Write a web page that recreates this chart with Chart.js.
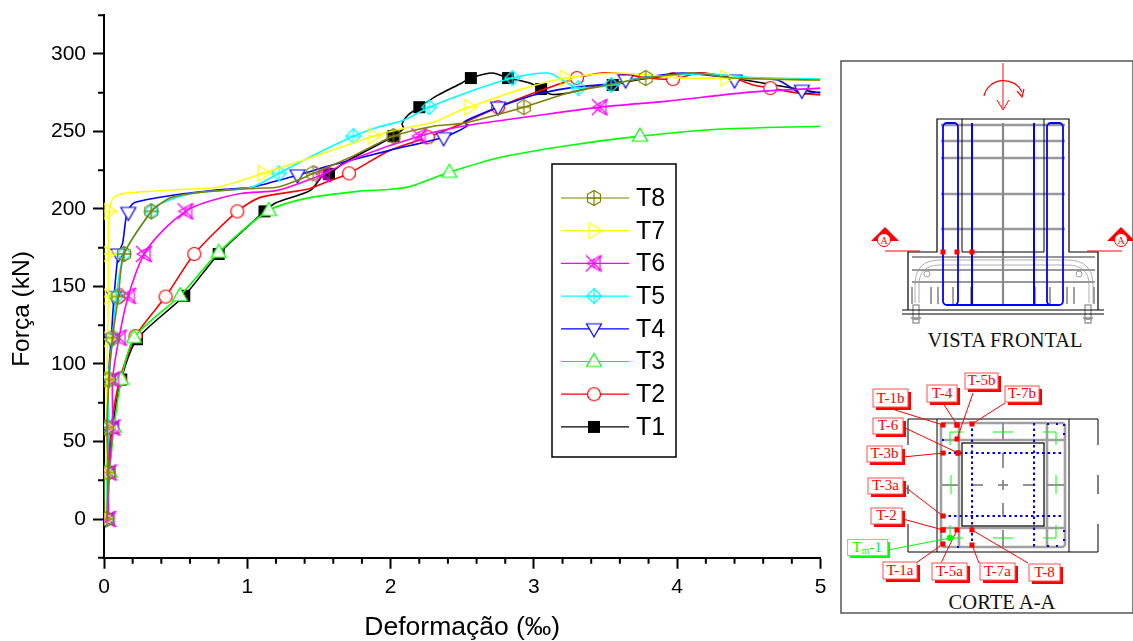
<!DOCTYPE html>
<html lang="pt">

<head>
    <meta charset="UTF-8" />
    <title>Força x Deformação</title>
    <script src="https://cdn.jsdelivr.net/npm/chart.js"></script>
    <style>
        html, body { margin: 0; background: #fff; width: 1133px; height: 641px; overflow: hidden; }
        #chart { position: absolute; left: 0; top: 0; }
        #detail { position: absolute; left: 0; top: 0; }
    </style>
</head>

<body>
    <canvas id="chart" width="840" height="641"></canvas>
    <svg id="detail" width="1133" height="641" viewBox="0 0 1133 641"></svg>

    <script>
        // [strain, force], one line and one marker list per test
        const t1Line = [[.02,0],[.03,30],[.06,59],[.12,90],[.23,116],[.56,144],[.80,171],[1.12,198.5],[1.20,204],[1.44,212],[1.53,222],[1.57,222.5],[1.67,229.5],[2.00,246],[2.09,252],[2.08,255],[2.12,260.5],[2.20,265.7],[2.33,273.5],[2.49,281],[2.56,284.5],[2.71,287.7],[2.82,284.5],[2.98,281],[3.05,277.4],[3.12,274],[3.24,274.8],[3.47,280],[3.55,280],[3.70,283],[3.93,285.8],[4.16,287.7],[4.39,284.5],[4.72,279.3],[5,274.8]];
        const t1Marks = [[.02,0],[.03,30],[.06,59],[.12,90],[.23,116],[.56,144],[.80,171],[1.12,198.5],[1.57,222.5],[2.02,247],[2.20,265.7],[2.56,284.5],[2.82,284.5],[3.05,277.4],[3.55,280]];

        const t2Line = [[.02,0],[.03,30],[.05,59],[.11,90],[.22,118],[.43,143.5],[.63,171],[.93,198.5],[1.09,207.5],[1.42,212.7],[1.53,216.6],[1.71,223],[2.00,238],[2.26,246.3],[2.47,254],[2.75,265.7],[3.00,274.8],[3.28,283.8],[3.47,287.7],[3.63,287],[3.79,284.5],[3.97,283.8],[4.16,287.7],[4.39,284.5],[4.53,280],[4.65,278],[4.84,274.8],[5,273.5]];
        const t2Marks = [[.02,0],[.03,30],[.05,59],[.11,90],[.22,118],[.43,143.5],[.63,171],[.93,198.5],[1.71,223],[2.26,246.3],[2.75,265.7],[3.30,284.5],[3.97,283.8],[4.65,278]];

        const t3Line = [[.02,0],[.04,30],[.07,59],[.12,90],[.21,117],[.53,144],[.80,172],[1.15,199],[1.42,207],[1.77,211.4],[2.0,212.7],[2.14,214.6],[2.41,223.7],[2.77,233.4],[3.24,241],[3.74,247],[4.28,251.5],[5,253.4]];
        const t3Marks = [[.02,0],[.04,30],[.07,59],[.12,90],[.21,117],[.53,144],[.80,172],[1.15,199],[2.41,223.7],[3.74,247]];

        const t4Line = [[.01,0],[.02,30],[.03,59],[.03,90],[.05,116],[.07,143.5],[.10,171],[.13,178],[.16,197],[.21,204],[.49,209],[.84,212.7],[1.03,214],[1.35,221.8],[1.58,228],[2.0,238],[2.37,246.3],[2.54,254],[2.51,256],[2.61,260.5],[2.75,265.7],[3.0,273.5],[3.24,278],[3.54,281],[3.74,284.5],[4.04,287.7],[4.39,284.5],[4.70,283.2],[4.86,274.8],[5,275.4]];
        const t4Marks = [[.01,0],[.02,30],[.03,59],[.03,90],[.05,116],[.07,143.5],[.10,171],[.17,197.8],[1.35,222],[2.37,246],[2.75,265.7],[3.64,283.2],[4.40,283.2],[4.87,276.6]];

        const t5Line = [[.02,0],[.02,30],[.03,59],[.03,90],[.06,116],[.085,143.5],[.14,171],[.33,198.5],[.40,203.7],[.61,210],[.84,212],[1.03,214],[1.22,223],[1.42,232.8],[1.74,247],[1.91,252.8],[2.09,257.3],[2.27,265.7],[2.54,275.4],[2.85,284.5],[3.10,287.7],[3.22,282],[3.31,278],[3.54,280],[3.74,284.5],[4.2,287.2],[4.5,285],[5,283.8]];
        const t5Marks = [[.02,0],[.02,30],[.03,59],[.03,90],[.06,116],[.085,143.5],[.14,171],[.33,198.5],[1.22,223],[1.74,247],[2.27,265.7],[2.85,284.5],[3.31,278],[3.54,280]];

        const t6Line = [[.03,0],[.035,30],[.06,59],[.06,90],[.105,117],[.17,144],[.28,171],[.42,187],[.57,198.5],[.70,204],[.955,210],[1.21,212],[1.42,218.5],[1.53,222.4],[1.77,233.4],[2.20,247],[2.54,254],[3.0,260],[3.46,265.7],[3.93,269.6],[4.51,275.4],[5,278]];
        const t6Marks = [[.03,0],[.035,30],[.06,59],[.06,90],[.105,117],[.17,144],[.28,171],[.57,198.5],[1.53,222.4],[2.20,247],[3.46,265.7]];

        const t7Line = [[.01,0],[.01,30],[.02,59],[.02,90],[.025,116],[.03,143.5],[.03,171],[.035,198.5],[.063,207],[.14,210],[.33,211.5],[.56,212.7],[.79,214],[1.11,223],[1.39,231.5],[1.88,247],[2.09,252],[2.30,256],[2.49,263.8],[2.55,265.7],[2.89,276.7],[3.22,284.5],[3.58,287.7],[4.04,284.5],[4.34,284.5],[4.63,283.8],[5,283.2]];
        const t7Marks = [[.01,0],[.01,30],[.02,59],[.02,90],[.025,116],[.03,143.5],[.03,171],[.035,198.5],[1.11,223],[1.88,247],[2.55,265.7],[3.22,284.5],[4.34,284.5]];

        const t8Line = [[.02,0],[.03,30],[.02,59],[.035,90],[.06,117],[.10,143.5],[.14,171],[.33,198.5],[.38,202.4],[.47,207.5],[.68,210.8],[1.07,213.4],[1.21,214],[1.35,218.5],[1.46,223],[1.72,233.4],[2.02,247],[2.30,253.4],[2.51,255.4],[2.93,265.7],[3.24,274.8],[3.51,280],[3.78,284.5],[4.11,287.7],[4.39,284.5],[5,283.2]];
        const t8Marks = [[.02,0],[.03,30],[.02,59],[.035,90],[.06,117],[.10,143.5],[.14,171],[.33,198.5],[1.46,223],[2.02,247],[2.93,265.7],[3.78,284.5]];

        const seriesNames = ['T8', 'T7', 'T6', 'T5', 'T4', 'T3', 'T2', 'T1'];
        const seriesLines = [t8Line, t7Line, t6Line, t5Line, t4Line, t3Line, t2Line, t1Line];
        const seriesMarks = [t8Marks, t7Marks, t6Marks, t5Marks, t4Marks, t3Marks, t2Marks, t1Marks];
        const seriesColors = ['#808000', '#ffff00', '#ff00ff', '#00ffff', '#0000ff', '#00ff00', '#ff0000', '#000000'];

        const xMajorTicks = [0, 1, 2, 3, 4, 5];
        const xMinorTicks = [.2, .4, .6, .8, 1.2, 1.4, 1.6, 1.8, 2.2, 2.4, 2.6, 2.8, 3.2, 3.4, 3.6, 3.8, 4.2, 4.4, 4.6, 4.8];
        const yMajorTicks = [0, 50, 100, 150, 200, 250, 300];
        const yMinorTicks = [-25, 25, 75, 125, 175, 225, 275, 325];

        // small offscreen canvas per marker, Chart.js takes these as pointStyle
        function makeMarker(name, color) {
            const c = document.createElement('canvas');
            c.width = 20; c.height = 20;
            const g = c.getContext('2d');
            g.translate(10, 10);
            g.strokeStyle = color;
            g.fillStyle = '#fff';
            g.lineWidth = 1.2;
            const poly = (pts, fill) => {
                g.beginPath();
                pts.forEach((p, i) => i ? g.lineTo(p[0], p[1]) : g.moveTo(p[0], p[1]));
                g.closePath();
                if (fill) g.fill();
                g.stroke();
            };
            const seg = (a, b, c2, d) => { g.beginPath(); g.moveTo(a, b); g.lineTo(c2, d); g.stroke(); };
            if (name === 'T1') {
                g.fillStyle = color;
                g.fillRect(-6, -6, 12, 12);
            } else if (name === 'T2') {
                g.beginPath(); g.arc(0, 0, 6.5, 0, Math.PI * 2); g.fill(); g.stroke();
            } else if (name === 'T3') {
                poly([[0, -8], [7.5, 5], [-7.5, 5]], true);
                g.fillStyle = color;
                g.fillRect(-.5, -.5, 1, 1);
            } else if (name === 'T4') {
                poly([[-7.5, -5], [7.5, -5], [0, 8]], true);
            } else if (name === 'T5') {
                poly([[0, -7.5], [7.5, 0], [0, 7.5], [-7.5, 0]]);
                seg(0, -7.5, 0, 7.5); seg(-7.5, 0, 7.5, 0);
            } else if (name === 'T6') {
                seg(-8, -8, 8, 8); seg(-8, 8, 8, -8);
                poly([[6, -7.5], [6, 7.5], [-7, 0]]);
                seg(0, -5, 0, 5);
            } else if (name === 'T7') {
                poly([[-5, -8], [-5, 8], [8, 0]]);
                seg(-5, 0, 8, 0);
            } else {
                poly([[0, -7.5], [6.5, -3.7], [6.5, 3.7], [0, 7.5], [-6.5, 3.7], [-6.5, -3.7]]);
                seg(0, -7.5, 0, 7.5); seg(-6.5, 0, 6.5, 0);
            }
            return c;
        }
        const markers = seriesNames.map((n, i) => makeMarker(n, seriesColors[i]));

        // first dataset ends up on top, so T8 first and T1 last
        const datasets = [];
        seriesNames.forEach((name, i) => {
            datasets.push({
                label: name + ' marks', data: seriesMarks[i], showLine: false,
                pointStyle: markers[i], pointRadius: 10
            });
            datasets.push({
                label: name, data: seriesLines[i], borderColor: seriesColors[i],
                borderWidth: 1.6, tension: 0.25, pointRadius: 0, fill: false
            });
        });

        const minorTicksAndExtras = {
            id: 'minorTicksAndExtras',
            afterDraw(chart) {
                const { ctx, scales } = chart;
                ctx.save();
                ctx.strokeStyle = '#000';
                ctx.lineWidth = 2;
                ctx.beginPath();
                xMinorTicks.forEach(v => {
                    const px = scales.x.getPixelForValue(v);
                    ctx.moveTo(px, scales.x.top);
                    ctx.lineTo(px, scales.x.top + 6);
                });
                yMinorTicks.forEach(v => {
                    const py = scales.y.getPixelForValue(v);
                    ctx.moveTo(scales.y.right, py);
                    ctx.lineTo(scales.y.right - 6, py);
                });
                ctx.stroke();

                // y title sits lower than the axis centre in the original
                ctx.fillStyle = '#000';
                ctx.font = '24.5px "Liberation Sans"';
                ctx.textAlign = 'center';
                ctx.textBaseline = 'middle';
                ctx.translate(22, 309);
                ctx.rotate(-Math.PI / 2);
                ctx.fillText('Força (kN)', 0, 0);
                ctx.restore();

                // legend box
                ctx.save();
                ctx.strokeStyle = '#000';
                ctx.lineWidth = 1.5;
                ctx.fillStyle = '#fff';
                ctx.fillRect(552, 164, 124, 293);
                ctx.strokeRect(552, 164, 124, 293);
                ctx.font = '25px "Liberation Sans"';
                ctx.textBaseline = 'middle';
                seriesNames.forEach((name, i) => {
                    const y = 198 + i * 32.7;
                    ctx.strokeStyle = seriesColors[i];
                    ctx.lineWidth = 1.2;
                    ctx.beginPath();
                    ctx.moveTo(561, y);
                    ctx.lineTo(629, y);
                    ctx.stroke();
                    ctx.drawImage(markers[i], 584, y - 10);
                    ctx.fillStyle = '#000';
                    ctx.fillText(name, 636, y + 1);
                });
                ctx.restore();
            }
        };

        new Chart(document.getElementById('chart'), {
            type: 'line',
            data: { datasets: datasets },
            plugins: [minorTicksAndExtras],
            options: {
                responsive: false,
                animation: false,
                layout: { autoPadding: false, padding: { top: 15.25, right: 19.5 } },
                plugins: { legend: { display: false }, tooltip: { enabled: false } },
                scales: {
                    x: {
                        type: 'linear', min: 0, max: 5,
                        afterBuildTicks: a => { a.ticks = xMajorTicks.map(v => ({ value: v })); },
                        afterFit: s => { s.height = 83.25; s.paddingLeft = 0; s.paddingRight = 0; },
                        border: { color: '#000', width: 2 },
                        grid: { drawOnChartArea: false, tickLength: 11, tickWidth: 2, tickColor: '#000' },
                        ticks: { color: '#000', font: { size: 21 }, padding: 6, maxRotation: 0, autoSkip: false },
                        title: { display: true, text: 'Deformação (‰)', color: '#000', font: { size: 26.5 }, padding: { top: 0, bottom: -3 } }
                    },
                    y: {
                        type: 'linear', min: -25, max: 325,
                        afterBuildTicks: a => { a.ticks = yMajorTicks.map(v => ({ value: v })); },
                        afterFit: s => { s.width = 104; s.paddingTop = 0; s.paddingBottom = 0; },
                        border: { color: '#000', width: 2 },
                        grid: { drawOnChartArea: false, tickLength: 11, tickWidth: 2, tickColor: '#000' },
                        ticks: { color: '#000', font: { size: 21 }, padding: 7, autoSkip: false }
                    }
                }
            }
        });

        // the test specimen drawing on the right, plain svg
        const red = '#ff0000', blue = '#0000ff', gray = '#a0a0a0', green = '#00ff00';
        const line = (x1, y1, x2, y2, color, w, extra) =>
            `<line x1="${x1}" y1="${y1}" x2="${x2}" y2="${y2}" stroke="${color}" stroke-width="${w}" ${extra || ''}/>`;
        const rect = (x, y, w, h, color, sw, extra) =>
            `<rect x="${x}" y="${y}" width="${w}" height="${h}" fill="none" stroke="${color}" stroke-width="${sw}" ${extra || ''}/>`;
        const dot = (x, y) => `<rect x="${x - 2.5}" y="${y - 2.5}" width="5" height="5" fill="${red}"/>`;
        const serif = (x, y, text, size, color) =>
            `<text x="${x}" y="${y}" font-family="Liberation Serif" font-size="${size}" fill="${color}" text-anchor="middle">${text}</text>`;

        let s = '';
        s += `<rect x="841" y="61" width="292" height="552" fill="#fff" stroke="#555" stroke-width="1.5"/>`;

        // load and moment arrows
        s += line(1003, 63, 1003, 108, '#ff6060', 1.5);
        s += `<path d="M997 100 L1003 110 L1009 100" fill="none" stroke="${red}" stroke-width="1"/>`;
        s += `<path d="M984 96 A20 19 0 0 1 1022 92" fill="none" stroke="${red}" stroke-width="1.2"/>`;
        s += `<path d="M1017 91 L1022 97 L1024 89" fill="none" stroke="${red}" stroke-width="1.2"/>`;

        // front view, gray bars
        [125, 141, 158, 194, 229].forEach(y => { s += line(941, y, 1065, y, '#999', 2.6); });
        [257, 270, 282].forEach(y => { s += line(912, y, 1095, y, '#999', 2.2); });
        [912, 931, 938, 953, 971, 1003, 1035, 1050, 1067, 1074, 1094].forEach(x => { s += line(x, 287, x, 304, gray, 2); });
        s += line(1003, 123, 1003, 304, '#888', 2.2);
        s += `<path d="M915 303 V285 Q915 260 940 260 H1067 Q1093 260 1093 285 V303" fill="none" stroke="#999" stroke-width="0.8"/>`;
        s += `<path d="M919 303 V285 Q919 265 940 265 H1067 Q1089 265 1089 285 V303" fill="none" stroke="#999" stroke-width="0.8"/>`;
        s += `<circle cx="927" cy="274" r="3" fill="none" stroke="#888" stroke-width="0.8"/><circle cx="1079" cy="274" r="3" fill="none" stroke="#888" stroke-width="0.8"/>`;
        [916, 1088].forEach(x => {
            s += rect(x - 3, 305, 6, 14, '#999', 1.4);
            s += line(x - 5, 318, x + 5, 318, '#888', 1.5);
            s += rect(x - 3, 319, 6, 4, '#999', 1.4);
        });

        // front view, concrete outline
        s += `<path d="M908 310 V252 H937 V119 H1069 V252 H1098 V310" fill="none" stroke="#000" stroke-width="1.2"/>`;
        s += line(902, 310, 1104, 310, '#000', 1);
        s += line(902, 314, 1104, 314, '#000', 1);
        s += `<path d="M962 119 V252 H1044 V119" fill="none" stroke="#000" stroke-width="1"/>`;

        // front view, blue bars
        s += rect(943, 123, 15, 182, blue, 1.8, 'rx="4"');
        s += rect(1047, 123, 16, 182, blue, 1.8, 'rx="4"');
        s += line(972, 123, 972, 304, blue, 2);
        s += line(1034, 123, 1034, 304, blue, 2);
        s += line(946, 305, 1060, 305, blue, 1.8);
        [943, 957, 972].forEach(x => { s += dot(x, 252); });

        // section marks A
        [[885, 871, 899, 884, 885, 920], [1121, 1107, 1135, 1121, 1087, 1122]].forEach(m => {
            s += `<polygon points="${m[0]},227 ${m[2]},241 ${m[1]},241" fill="${red}"/>`;
            s += `<circle cx="${m[3]}" cy="240" r="6.5" fill="#fff" stroke="${red}" stroke-width="1"/>`;
            s += serif(m[3], 244, 'A', 10, red);
            s += line(m[4], 251, m[5], 251, red, 1);
        });
        s += serif(1005, 347, 'VISTA FRONTAL', 20.4, '#111');

        // section A-A, gray stirrups and bars
        s += rect(941, 423, 124, 124, gray, 2.6, 'rx="3"');
        s += line(941, 440, 1065, 440, gray, 2.6);
        s += line(941, 528, 1065, 528, gray, 2.6);
        s += line(959, 423, 959, 547, gray, 2.6);
        s += line(1047, 423, 1047, 547, gray, 2.6);
        [[1003, 423, 1003, 440], [1003, 453, 1003, 468], [1003, 503, 1003, 517], [1003, 530, 1003, 547],
         [942, 485, 958, 485], [972, 485, 983, 485], [1023, 485, 1035, 485], [1047, 485, 1064, 485]].forEach(b => {
            s += line(b[0], b[1], b[2], b[3], '#888', 1.8);
        });
        s += line(998, 485, 1008, 485, '#888', 1.8);
        s += line(1003, 480, 1003, 490, '#888', 1.8);

        // section A-A, green bars
        [[993, 432, 1013, 432], [993, 538, 1013, 538], [951, 475, 951, 494], [1056, 475, 1056, 494]].forEach(b => {
            s += line(b[0], b[1], b[2], b[3], green, 1);
        });
        ['M950 445 V432 H963', 'M1056 445 V432 H1043', 'M950 525 V538 H963', 'M1056 525 V538 H1043'].forEach(d => {
            s += `<path d="${d}" fill="none" stroke="${green}" stroke-width="1"/>`;
        });

        // section A-A, blue dotted bars
        const dots = 'stroke-dasharray="2.5 3"';
        s += line(972, 423, 972, 547, blue, 2, dots);
        s += line(1034, 423, 1034, 547, blue, 2, dots);
        s += line(943, 453, 1064, 453, blue, 2, dots);
        s += line(943, 516, 1064, 516, blue, 2, dots);
        s += line(1047, 424, 1064, 424, blue, 2, 'stroke-dasharray="2 7"');
        s += line(1047, 546, 1064, 546, blue, 2, 'stroke-dasharray="2 7"');
        s += line(1064, 424, 1064, 440, blue, 2, 'stroke-dasharray="2 7"');
        s += line(1064, 530, 1064, 546, blue, 2, 'stroke-dasharray="2 7"');
        s += line(943, 439, 943, 441, blue, 2);
        s += line(958, 546, 958, 548, blue, 2);

        // section A-A, black outline
        s += line(908, 419, 1098, 419, '#000', 1);
        s += line(908, 552, 1098, 552, '#000', 1);
        s += line(937, 419, 937, 552, '#000', 1);
        s += line(1069, 419, 1069, 552, '#000', 1);
        s += rect(962, 443, 82, 83, '#000', 1.2);
        [[908, 419, 445], [908, 485, 494], [908, 524, 552], [1098, 419, 445], [1098, 475, 494], [1098, 524, 552]].forEach(b => {
            s += line(b[0], b[1], b[0], b[2], '#000', 1);
        });

        // gauge labels: text, box x, y, w, h, leader start and gauge position
        const gauges = [
            ['T-1b', 873, 389, 35, 18, 895, 410, 943, 425],
            ['T-4', 927, 385, 30, 17, 943, 403, 957, 425],
            ['T-5b', 965, 373, 33, 16, 973, 393, 957, 439],
            ['T-7b', 1005, 386, 34, 16, 1005, 403, 972, 424],
            ['T-6', 873, 418, 30, 16, 903, 427, 958, 453],
            ['T-3b', 867, 446, 35, 16, 903, 457, 943, 453],
            ['T-3a', 868, 478, 35, 16, 905, 487, 943, 516],
            ['T-2', 871, 508, 31, 16, 903, 519, 943, 530],
            ['T-1a', 883, 562, 34, 17, 916, 563, 943, 544],
            ['T-5a', 932, 563, 35, 17, 941, 563, 957, 530],
            ['T-7a', 980, 563, 35, 17, 979, 563, 972, 545],
            ['T-8', 1029, 564, 31, 17, 1028, 563, 972, 530]
        ];
        gauges.forEach(g => {
            s += line(g[5], g[6], g[7], g[8], red, 1);
            s += dot(g[7], g[8]);
            s += `<rect x="${g[1] + 3}" y="${g[2] + 3}" width="${g[3]}" height="${g[4]}" fill="${red}"/>`;
            s += `<rect x="${g[1]}" y="${g[2]}" width="${g[3]}" height="${g[4]}" fill="#fff" stroke="#ff5050" stroke-width="1"/>`;
            s += serif(g[1] + g[3] / 2, g[2] + g[4] - 4, g[0], 15, red);
        });
        s += dot(957, 425);
        s += dot(958, 453);
        s += dot(943, 530);

        // the green one
        s += line(888, 550, 950, 538, green, 1);
        s += `<circle cx="950" cy="538" r="3.2" fill="${green}"/>`;
        s += `<rect x="850" y="542" width="40" height="16" fill="${green}"/>`;
        s += `<rect x="847.5" y="539.5" width="40" height="16" fill="#fff" stroke="#50ff50" stroke-width="1"/>`;
        s += `<text x="867" y="552" font-family="Liberation Serif" font-size="15" fill="${green}" text-anchor="middle">T<tspan font-size="10" dy="2">m</tspan><tspan dy="-2">-1</tspan></text>`;

        s += serif(1002, 609, 'CORTE A-A', 20.6, '#111');

        document.getElementById('detail').innerHTML = s;
    </script>
</body>

</html>
